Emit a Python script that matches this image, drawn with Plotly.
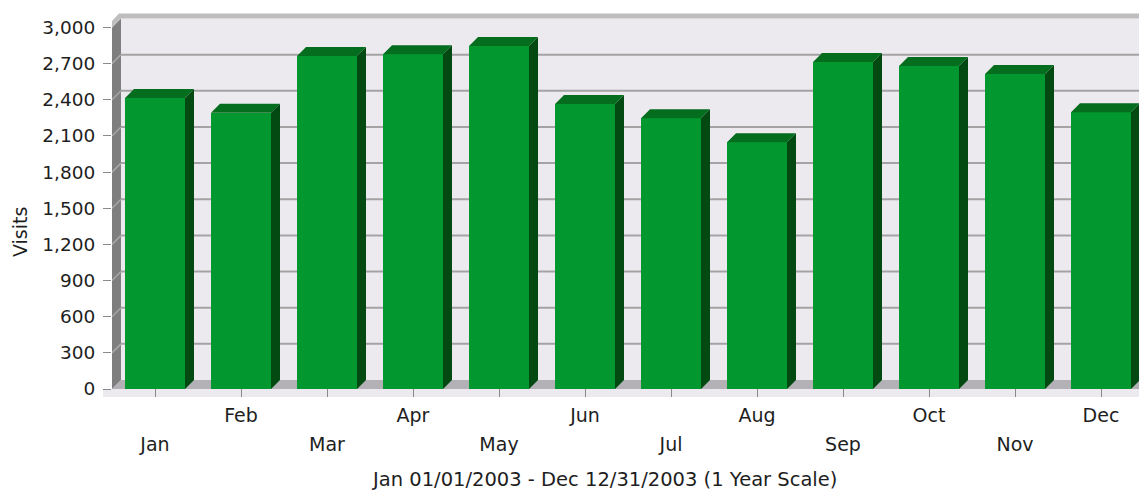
import plotly.graph_objects as go

# ---------------- data ----------------
months = ["Jan", "Feb", "Mar", "Apr", "May", "Jun", "Jul", "Aug", "Sep", "Oct", "Nov", "Dec"]
visits = [2415, 2293, 2763, 2778, 2846, 2365, 2246, 2047, 2714, 2680, 2614, 2296]
y_ticks = [0, 300, 600, 900, 1200, 1500, 1800, 2100, 2400, 2700, 3000]
y_ticklabels = [f"{v:,}" for v in y_ticks]
x_title = "Jan 01/01/2003 - Dec 12/31/2003 (1 Year Scale)"
y_title = "Visits"

# ---------------- geometry / style ----------------
OFF = 8  # page body margin
W, H = 1147 - OFF, 490 - OFF
ML, MR, MT, MB = 112 - OFF, 0, 10 - OFF, 93
PW, PH = W - ML - MR, H - MT - MB
PX_PER_CAT = 86.0
UNITS_PER_PX = 3000 / 361.5
X0 = -0.5
X1 = X0 + PW / PX_PER_CAT
Y0 = -8 * UNITS_PER_PX
Y1 = Y0 + PH * UNITS_PER_PX
DX = 9 / PX_PER_CAT
DY = 9 * UNITS_PER_PX
BW = 60 / PX_PER_CAT
YMAX = y_ticks[-1]

FONT = "DejaVu Sans"
TXT = "#1e1e1e"
C_FRONT = "#03982F"
C_TOP = "#046E1E"
C_SIDE = "#024A12"
C_WALL = "#EDEAEF"
C_FLOOR = "#B3B1B5"
C_LWALL = "#7E7E7E"
C_GRID = "#A3A3A3"
C_BAND = "#BEBEBE"
C_TICK = "#8A8A8A"


def px_x(p):  # screenshot pixel -> paper x
    return (p - OFF - ML) / PW


def px_y(p):  # screenshot pixel -> paper y
    return (H - MB - (p - OFF)) / PH


xs = list(range(len(months)))

fig = go.Figure()

# front faces
fig.add_trace(go.Bar(x=xs, y=visits, width=BW, marker=dict(color=C_FRONT, line=dict(width=0)),
                     hoverinfo="x+y", showlegend=False))

# tops and sides
tx, ty, sx, sy = [], [], [], []
for i, v in zip(xs, visits):
    l, r = i - BW / 2, i + BW / 2
    tx += [l, l + DX, r + DX, r, l, None]
    ty += [v, v + DY, v + DY, v, v, None]
    sx += [r, r + DX, r + DX, r, r, None]
    sy += [0, DY, v + DY, v, 0, None]
fig.add_trace(go.Scatter(x=tx, y=ty, mode="lines", fill="toself", fillcolor=C_TOP,
                         line=dict(width=0, color=C_TOP), hoverinfo="skip", showlegend=False))
fig.add_trace(go.Scatter(x=sx, y=sy, mode="lines", fill="toself", fillcolor=C_SIDE,
                         line=dict(width=0, color=C_SIDE), hoverinfo="skip", showlegend=False))
# invisible trace for the second (staggered) label axis
fig.add_trace(go.Scatter(x=[0], y=[0], xaxis="x2", mode="markers", marker=dict(opacity=0),
                         hoverinfo="skip", showlegend=False))

shapes = []
# back wall
shapes.append(dict(type="rect", xref="x", yref="y", x0=X0 + DX, x1=X1, y0=DY, y1=YMAX + DY,
                   fillcolor=C_WALL, line=dict(width=0), layer="below"))
# back wall grid
for v in y_ticks[1:-1]:
    shapes.append(dict(type="line", xref="x", yref="y", x0=X0 + DX, x1=X1, y0=v + DY, y1=v + DY,
                       line=dict(color=C_GRID, width=2), layer="below"))
# floor
shapes.append(dict(type="path", xref="x", yref="y",
                   path=f"M{X0},0 L{X1},0 L{X1},{DY} L{X0 + DX},{DY} Z",
                   fillcolor=C_FLOOR, line=dict(width=0), layer="below"))
# left wall
shapes.append(dict(type="path", xref="x", yref="y",
                   path=f"M{X0},0 L{X0},{YMAX} L{X0 + DX},{YMAX + DY} L{X0 + DX},{DY} Z",
                   fillcolor=C_LWALL, line=dict(width=0), layer="below"))
for v in y_ticks[1:-1]:
    shapes.append(dict(type="line", xref="x", yref="y", x0=X0, x1=X0 + DX, y0=v, y1=v + DY,
                       line=dict(color="#A8A8A8", width=1.5), layer="below"))
# top band of the wall
BAND = 5 * UNITS_PER_PX
shapes.append(dict(type="path", xref="x", yref="y",
                   path=(f"M{X0 - 6 / PX_PER_CAT},{YMAX} L{X0},{YMAX} L{X0 + DX},{YMAX + DY} "
                         f"L{X1},{YMAX + DY} L{X1},{YMAX + DY + BAND} L{X0 + DX - 2 / PX_PER_CAT},{YMAX + DY + BAND} Z"),
                   fillcolor=C_BAND, line=dict(width=0), layer="below"))
# floor front edge strip
shapes.append(dict(type="rect", xref="paper", yref="y", x0=-9 / PW, x1=1, y0=Y0, y1=0,
                   fillcolor=C_WALL, line=dict(width=0), layer="below"))

fig.update_layout(
    template="none",
    width=W, height=H,
    margin=dict(l=ML, r=MR, t=MT, b=MB, pad=0),
    paper_bgcolor="white", plot_bgcolor="white",
    font=dict(family=FONT, size=18, color=TXT),
    bargap=0, showlegend=False,
    shapes=shapes,
    xaxis=dict(range=[X0, X1], tickmode="array", tickvals=xs,
               ticktext=[m if i % 2 == 1 else "" for i, m in enumerate(months)],
               ticks="inside", ticklen=8, tickwidth=1, tickcolor=C_TICK, automargin=False,
               showgrid=False, zeroline=False, showline=False, fixedrange=True,
               tickfont=dict(size=19), ticklabelstandoff=5),
    xaxis2=dict(range=[X0, X1], overlaying="x", anchor="y", side="bottom", tickmode="array",
                tickvals=[i for i in xs if i % 2 == 0],
                ticktext=[m for i, m in enumerate(months) if i % 2 == 0], automargin=False,
                ticks="", showgrid=False, zeroline=False, showline=False, fixedrange=True,
                tickfont=dict(size=19), ticklabelstandoff=34),
    yaxis=dict(range=[Y0, Y1], tickmode="array", tickvals=y_ticks, ticktext=y_ticklabels,
               ticks="outside", ticklen=8, tickwidth=1, tickcolor=C_TICK, automargin=False,
               showgrid=False, zeroline=False, showline=False, fixedrange=True,
               tickfont=dict(size=18.5), ticklabelstandoff=4),
    annotations=[
        dict(text=y_title, xref="paper", yref="paper", x=px_x(20), y=px_y(232),
             textangle=-90, showarrow=False,
             xanchor="center", yanchor="middle", font=dict(size=19, color=TXT)),
        dict(text=x_title, xref="paper", yref="paper", x=px_x(604), y=px_y(479),
             showarrow=False,
             xanchor="center", yanchor="middle", font=dict(size=19.5, color=TXT)),
    ],
)

fig.write_html("out.html")
